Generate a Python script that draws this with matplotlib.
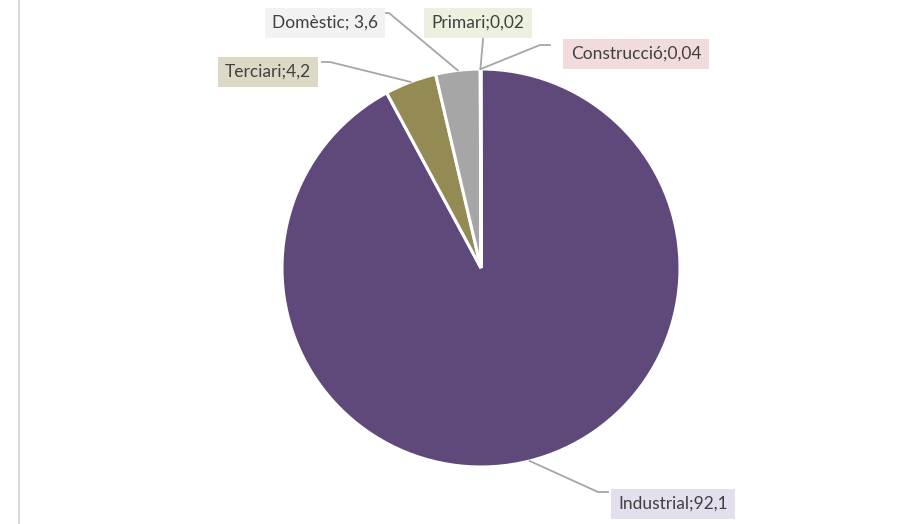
import numpy as np
import matplotlib.pyplot as plt

# ____________________________________________________________________
# DATA

sectors = ['Industrial', 'Terciari', 'Domèstic', 'Primari', 'Construcció']
values = [92.1, 4.2, 3.6, 0.02, 0.04]
value_labels = ['92,1', '4,2', ' 3,6', '0,02', '0,04']

wedge_colours = ['#5f497a', '#948a54', '#a6a6a6', '#9bbb59', '#c0504d']
box_colours = ['#e4dfec', '#ddd9c4', '#f2f2f2', '#ebf1de', '#f2dcdb']

# ____________________________________________________________________
# FIGURE (axes in pixel units, y up)

W, H = 916, 524
fig = plt.figure(figsize=(W / 100, H / 100), dpi=100)
ax = fig.add_axes([0, 0, 1, 1])

cx, cy, rad = 481, H - 268, 199

wedges, _ = ax.pie(values, colors=wedge_colours, startangle=90, counterclock=False,
                   center=(cx, cy), radius=rad, frame=True,
                   wedgeprops=dict(edgecolor='white', linewidth=2.2))
ax.set_xlim(0, W)
ax.set_ylim(0, H)
ax.set_aspect('equal')
ax.axis('off')

# left border line
ax.plot([19, 19], [0, H], color='#d9d9d9', lw=1.5)

# label layout: (text centre, elbow, line end) in image pixel coords
layout = {
    'Industrial': ((673, 504), (598, 492), (608, 492)),
    'Terciari': ((268, 72), (330, 62), (322, 62)),
    'Domèstic': ((325, 23), (389, 13), (386, 13)),
    'Primari': ((478, 23), (483, 40), (483, 38)),
    'Construcció': ((636, 54), (540, 45), (550, 45)),
}

for w, name, lab, bc in zip(wedges, sectors, value_labels, box_colours):
    mid = np.deg2rad((w.theta1 + w.theta2) / 2)
    px = cx + rad * np.cos(mid)
    py = cy + rad * np.sin(mid)
    (tx, ty), (ex, ey), (lx, ly) = layout[name]
    ax.plot([px, ex, lx], [py, H - ey, H - ly], color='#a6a6a6', lw=1.3, zorder=1)
    ax.text(tx, H - ty, name + ';' + lab, ha='center', va='center', fontsize=12.5,
            family='Lato', color='#404040', zorder=3,
            bbox=dict(boxstyle='square,pad=0.42', fc=bc, ec='none'))

plt.savefig('out.png', dpi=100, facecolor='white')
